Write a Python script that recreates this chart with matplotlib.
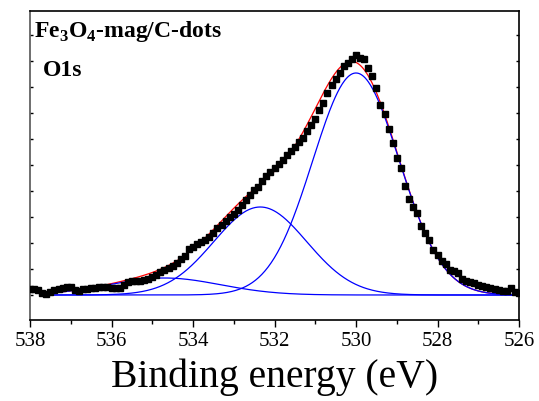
import numpy as np
import matplotlib
matplotlib.use("Agg")
import matplotlib.pyplot as plt
from matplotlib.ticker import MultipleLocator

plt.rcParams["font.family"] = "Liberation Serif"
plt.rcParams["mathtext.fontset"] = "custom"
plt.rcParams["mathtext.rm"] = "Liberation Serif"
plt.rcParams["mathtext.bf"] = "Liberation Serif:bold"

# binding energy of the measured points (eV), 538 -> 526 in 0.1 eV steps
energy = np.round(np.arange(538.0, 525.95, -0.1), 2)
# measured intensity (a.u., background subtracted)
counts = [6, 6, 5, 2, 1, 3, 5, 6, 7, 8,
          8, 5, 4, 6, 6, 7, 7, 8, 8, 8,
          7, 7, 7, 10, 13, 14, 14, 14, 15, 16,
          18, 20, 23, 25, 27, 29, 32, 36, 39, 46,
          48, 51, 53, 55, 58, 62, 67, 70, 74, 78,
          81, 85, 90, 95, 100, 105, 108, 114, 119, 123,
          127, 131, 135, 140, 144, 148, 153, 157, 164, 170,
          176, 185, 192, 202, 210, 216, 222, 229, 232, 236,
          240, 237, 236, 227, 219, 207, 190, 181, 166, 152,
          137, 127, 109, 96, 88, 82, 69, 62, 55, 45,
          40, 34, 31, 25, 24, 22, 16, 14, 13, 12,
          10, 9, 8, 7, 6, 5, 4, 4, 7, 3,
          2]

# fitted O1s components: position (eV), height, gaussian sigma (eV)
peak_pos = [530.0, 532.35, 534.7]
peak_height = [222, 88, 17]
peak_sigma = [1.06, 1.14, 1.37]
fit_start, fit_end = 537.6, 526.0

fig = plt.figure(figsize=(5.39, 4.01), dpi=100)
ax = fig.add_axes([0.0557, 0.202, 0.9072, 0.7706])

e_fit = np.linspace(fit_start, fit_end, 600)
envelope = np.zeros_like(e_fit)
for c, h, s in zip(peak_pos, peak_height, peak_sigma):
    comp = h * np.exp(-(e_fit - c) ** 2 / (2 * s ** 2))
    envelope += comp
    ax.plot(e_fit, comp, color="#0000ff", lw=0.9, zorder=2)
ax.plot(e_fit, envelope, color="#ff0000", lw=0.9, zorder=1)

ax.plot(energy, counts, "s", color="black", ms=4.2, zorder=3)

ax.set_xlim(538, 526)
ax.set_ylim(-25, 284)
ax.xaxis.set_major_locator(MultipleLocator(2))
ax.xaxis.set_minor_locator(MultipleLocator(1))
ax.yaxis.set_major_locator(MultipleLocator(26))
ax.tick_params(axis="x", which="major", direction="out", length=5, width=1,
               labelsize=15, pad=4)
ax.tick_params(axis="x", which="minor", direction="out", length=3, width=1)
ax.tick_params(axis="y", which="major", direction="in", length=2, width=1,
               left=True, right=True, labelleft=False)
for side in ["left", "right", "top", "bottom"]:
    ax.spines[side].set_linewidth(1.2)
ax.spines["left"].set_color("#555555")

ax.set_xlabel("Binding energy (eV)", fontsize=28.5, labelpad=5)

ax.text(0.008, 0.975, r"Fe$_\mathbf{3}$O$_\mathbf{4}$-mag/C-dots", transform=ax.transAxes,
        fontsize=17, fontweight="bold", va="top", ha="left")
ax.text(0.026, 0.84, "O1s", transform=ax.transAxes,
        fontsize=17, fontweight="bold", va="top", ha="left")

fig.savefig("out.png", dpi=100)
